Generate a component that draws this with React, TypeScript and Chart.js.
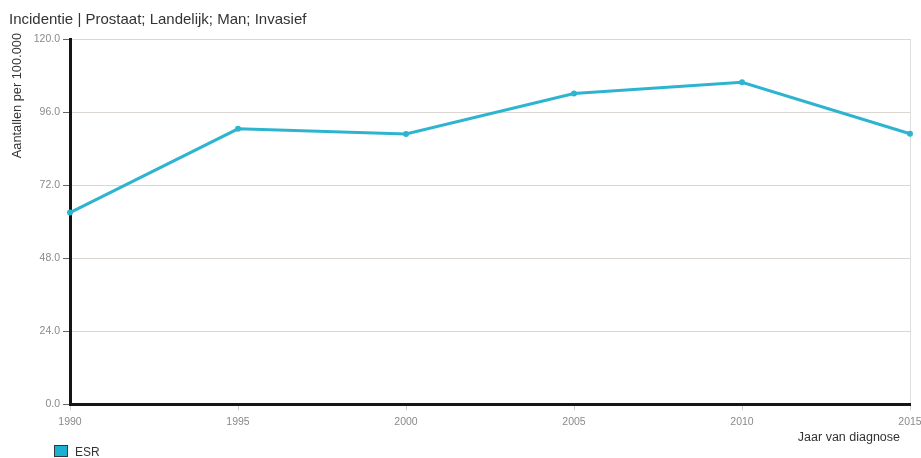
import React, { useEffect, useRef } from "react";
import { Chart, registerables } from "chart.js";

Chart.register(...registerables);

const years = ["1990", "1995", "2000", "2005", "2010", "2015"];
const esrValues = [63.0, 90.5, 88.8, 102.1, 105.8, 88.9];
const yTicks = [0, 24, 48, 72, 96, 120];

const chartTitle = "Incidentie | Prostaat; Landelijk; Man; Invasief";
const yAxisTitle = "Aantallen per 100.000";
const xAxisTitle = "Jaar van diagnose";
const seriesName = "ESR";

const FONT = "'Liberation Sans', Arial, sans-serif";
const LINE_COLOR = "#2fb4d0";

// Title, rotated axis title, x-axis caption and legend drawn on the canvas
const textPlugin = {
  id: "textOverlay",
  afterDraw(chart: any) {
    const ctx = chart.ctx as CanvasRenderingContext2D;
    ctx.save();
    ctx.fillStyle = "#333";
    ctx.textBaseline = "alphabetic";

    ctx.font = `15px ${FONT}`;
    ctx.textAlign = "left";
    ctx.fillText(chartTitle, 9, 24);

    ctx.save();
    ctx.font = `12.8px ${FONT}`;
    ctx.translate(21, 33);
    ctx.rotate(-Math.PI / 2);
    ctx.textAlign = "right";
    ctx.fillText(yAxisTitle, 0, 0);
    ctx.restore();

    ctx.font = `12.5px ${FONT}`;
    ctx.textAlign = "right";
    ctx.fillText(xAxisTitle, 900, 441);

    ctx.fillStyle = "#1cb0d3";
    ctx.fillRect(54.5, 445.5, 13, 11);
    ctx.strokeStyle = "#2a3a40";
    ctx.lineWidth = 1;
    ctx.strokeRect(54.5, 445.5, 13, 11);
    ctx.fillStyle = "#333";
    ctx.font = `12px ${FONT}`;
    ctx.textAlign = "left";
    ctx.fillText(seriesName, 75, 456);
    ctx.restore();
  },
};

export default function App() {
  const canvasRef = useRef<HTMLCanvasElement | null>(null);

  useEffect(() => {
    document.body.style.margin = "0";
    const canvas = canvasRef.current;
    if (!canvas) return;
    const chart = new Chart(canvas, {
      type: "line",
      data: {
        labels: years,
        datasets: [
          {
            label: seriesName,
            data: esrValues,
            borderColor: LINE_COLOR,
            backgroundColor: LINE_COLOR,
            borderWidth: 3,
            pointRadius: 3,
            pointBorderWidth: 0,
            tension: 0,
          },
        ],
      },
      options: {
        responsive: false,
        animation: false,
        layout: { padding: { left: 0, right: 11, top: 39, bottom: 0 } },
        plugins: {
          legend: { display: false },
          title: { display: false },
          tooltip: { enabled: false },
        },
        scales: {
          x: {
            type: "category",
            offset: false,
            afterFit(scale: any) {
              scale.height = 53.5;
              scale.paddingLeft = 0;
              scale.paddingRight = 0;
            },
            border: { display: true, color: "#151515", width: 3 },
            grid: {
              color: (c: any) => (c.index === years.length - 1 ? "#dedede" : "rgba(0,0,0,0)"),
              tickColor: "#d0d0d0",
              tickLength: 6,
              lineWidth: 1,
            },
            ticks: {
              color: "#8a8a8a",
              font: { family: FONT, size: 10.5 },
              padding: 5,
              maxRotation: 0,
              autoSkip: false,
            },
          },
          y: {
            min: 0,
            max: 120,
            afterFit(scale: any) {
              scale.width = 70;
              scale.paddingTop = 0;
              scale.paddingBottom = 0;
            },
            afterBuildTicks(scale: any) {
              scale.ticks = yTicks.map((v) => ({ value: v }));
            },
            border: { display: true, color: "#151515", width: 3 },
            grid: {
              color: "#dcd6d3",
              tickColor: "#666",
              tickLength: 7,
              lineWidth: 1,
            },
            ticks: {
              color: "#8a8a8a",
              font: { family: FONT, size: 10.5 },
              padding: 3,
              callback: (v: any) => Number(v).toFixed(1),
            },
          },
        },
      },
      plugins: [textPlugin],
    });
    return () => chart.destroy();
  }, []);

  return (
    <div style={{ width: 921, height: 458, background: "#fff" }}>
      <canvas ref={canvasRef} width={921} height={458} style={{ width: 921, height: 458, display: "block" }} />
    </div>
  );
}
